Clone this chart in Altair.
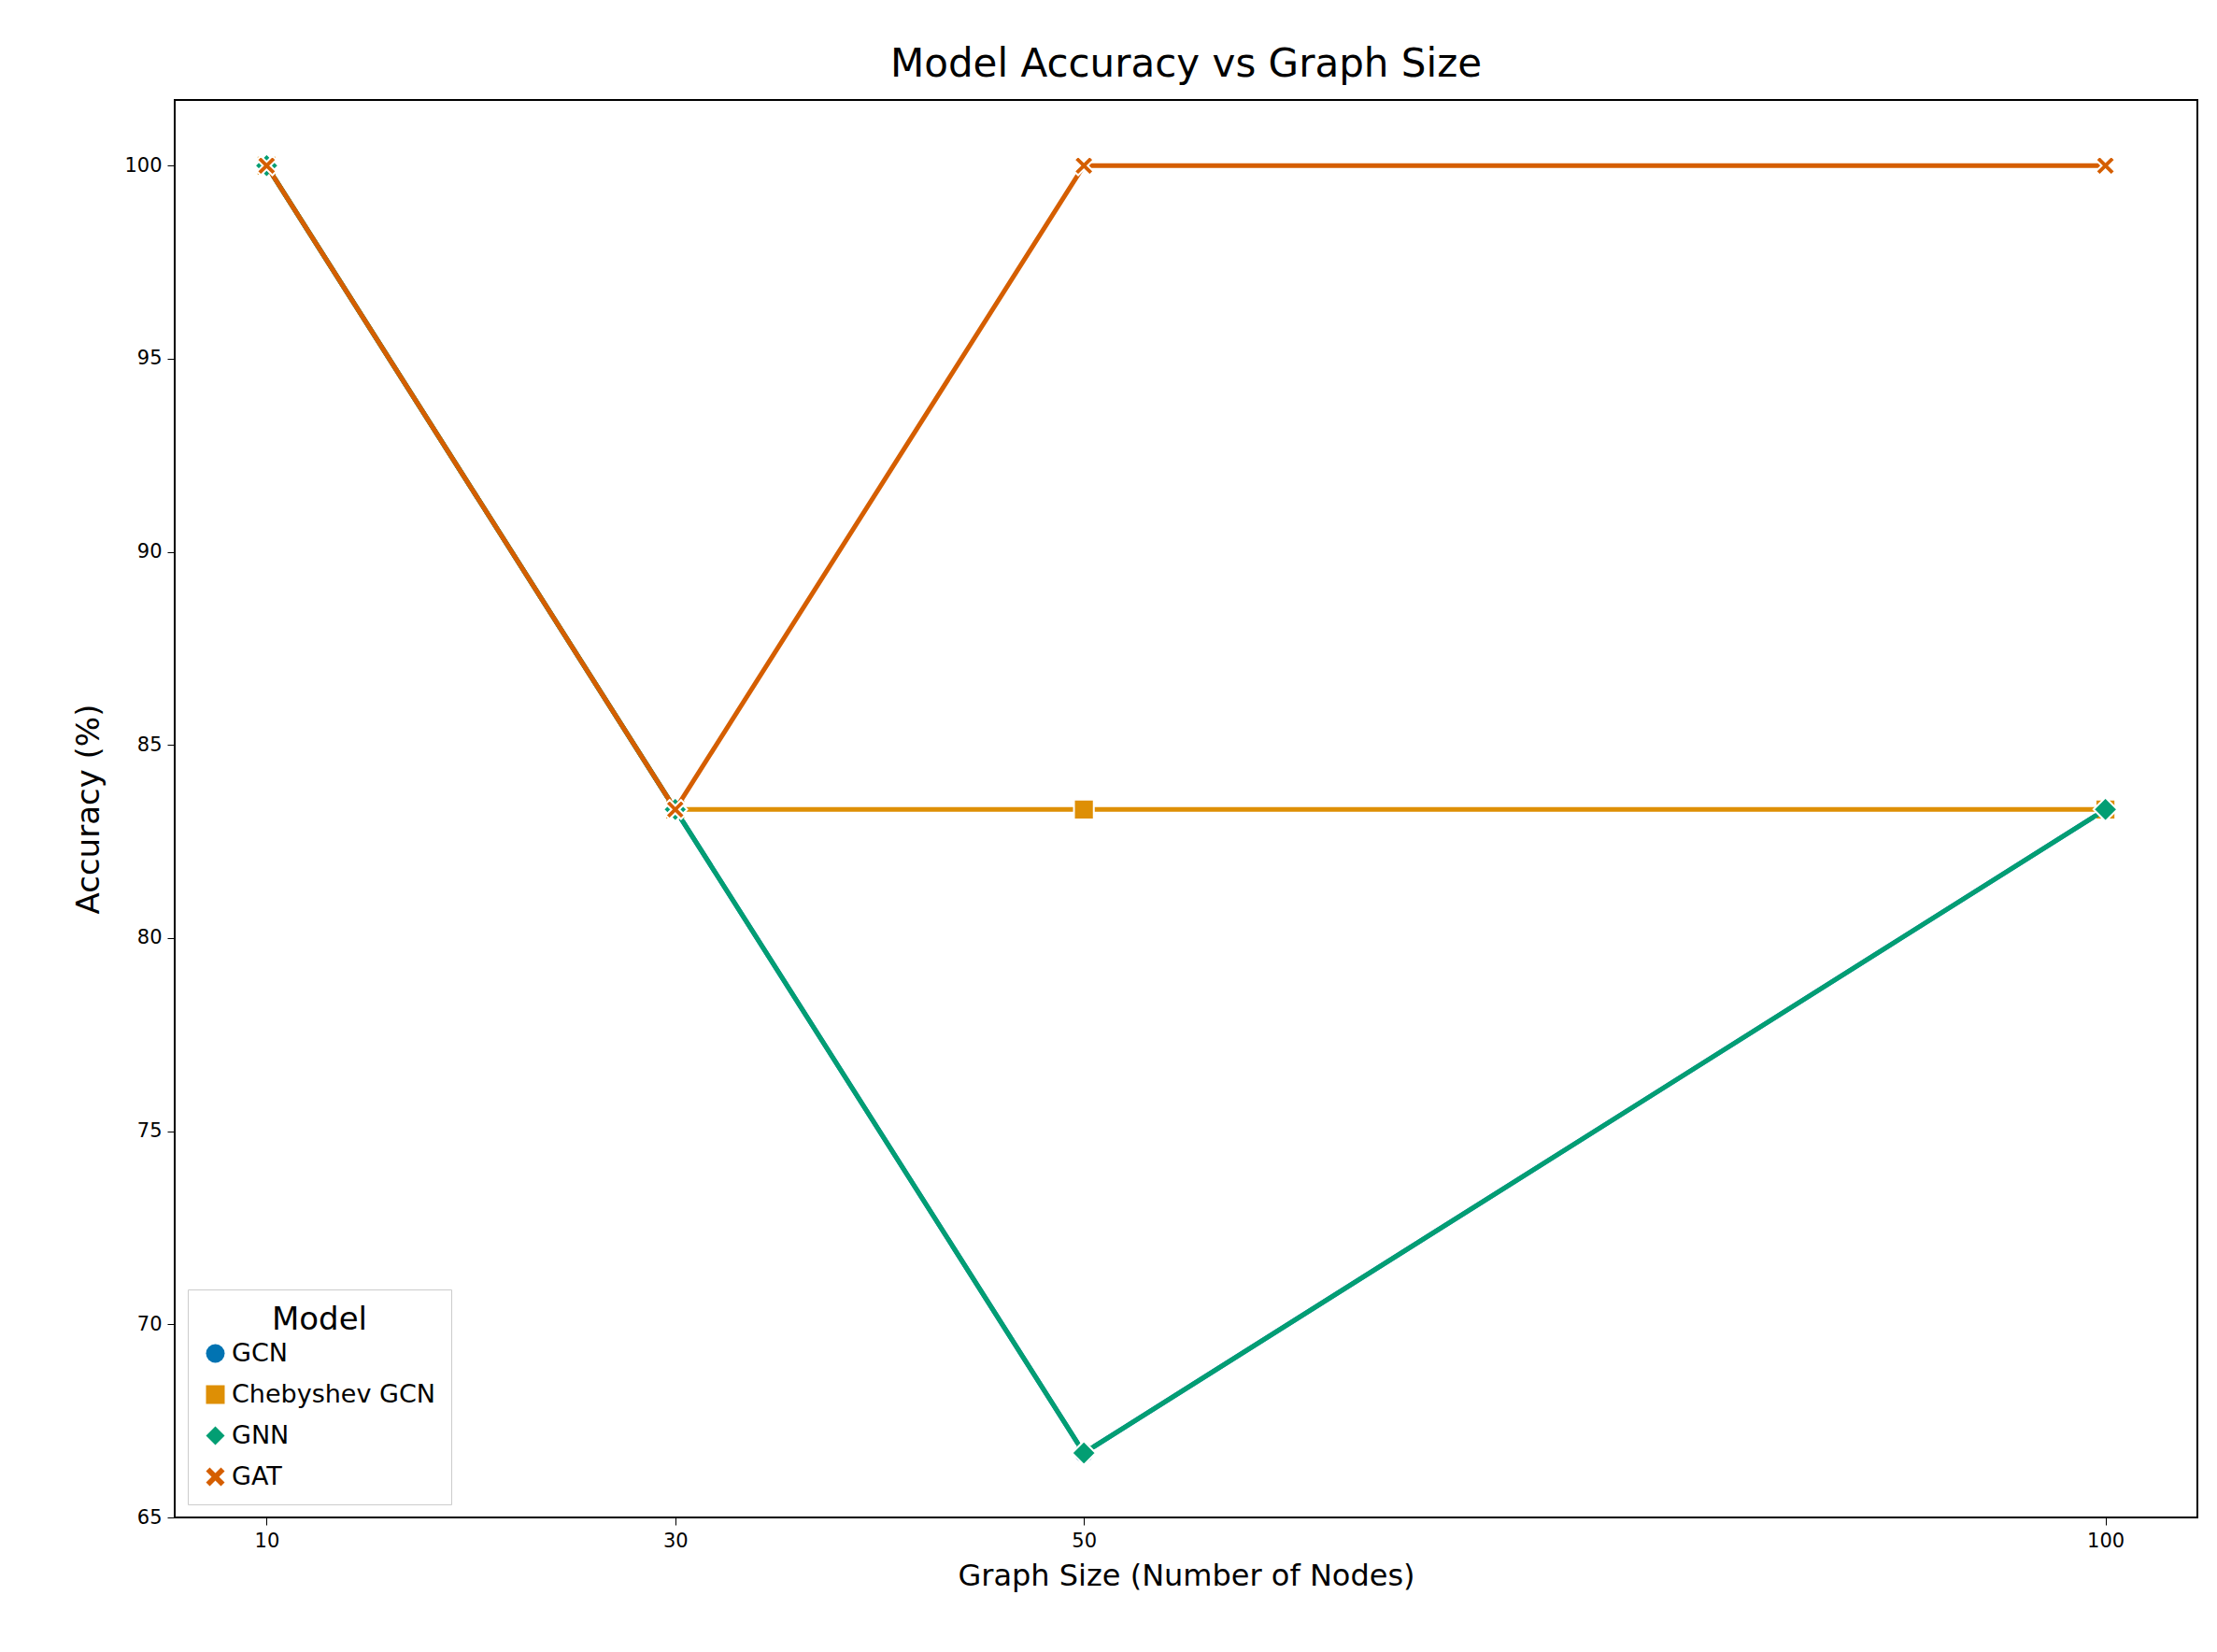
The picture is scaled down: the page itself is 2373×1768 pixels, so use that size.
import altair as alt
import pandas as pd

sizes = [10, 30, 50, 100]
models = ["GCN", "Chebyshev GCN", "GNN", "GAT"]
gcn = [100.0, 83.33, 66.67, 83.33]
cheb = [100.0, 83.33, 83.33, 83.33]
gnn = [100.0, 83.33, 66.67, 83.33]
gat = [100.0, 83.33, 100.0, 100.0]
colors = ["#0173b2", "#de8f05", "#029e73", "#d55e00"]
xpath = "M-0.6,-1L0,-0.4L0.6,-1L1,-0.6L0.4,0L1,0.6L0.6,1L0,0.4L-0.6,1L-1,0.6L-0.4,0L-1,-0.6Z"
shapes = ["circle", "square", "diamond", xpath]
msizes = [500, 450, 650, 420]

x = alt.X("size:Q", title="Graph Size (Number of Nodes)",
          scale=alt.Scale(domain=[5.5, 104.5], nice=False, zero=False),
          axis=alt.Axis(values=sizes, grid=False, labelFontSize=21, titleFontSize=32,
                        tickSize=8, labelPadding=6, titlePadding=12))
y = alt.Y("acc:Q", title="Accuracy (%)",
          scale=alt.Scale(domain=[65, 101.7], nice=False, zero=False),
          axis=alt.Axis(values=[65, 70, 75, 80, 85, 90, 95, 100], grid=False, labelFontSize=21,
                        titleFontSize=34, tickSize=8, labelPadding=6, titlePadding=20))
color = alt.Color("Model:N", scale=alt.Scale(domain=models, range=colors),
                  legend=alt.Legend(orient="bottom-left", title="Model", titleFontSize=34,
                                    labelFontSize=27, labelLimit=500, symbolSize=400,
                                    symbolStrokeWidth=0,
                                    fillColor="white", strokeColor="#cccccc", padding=16,
                                    rowPadding=16, offset=14, titleAnchor="middle",
                                    titleFontWeight="normal", symbolOpacity=1))
shape = alt.Shape("Model:N", scale=alt.Scale(domain=models, range=shapes))

layers = []
for i, (m, vals) in enumerate(zip(models, [gcn, cheb, gnn, gat])):
    d = pd.DataFrame({"size": sizes, "acc": vals, "Model": [m] * 4})
    b = alt.Chart(d)
    layers.append(b.mark_line(strokeWidth=5).encode(x=x, y=y, color=color))
    layers.append(b.mark_point(filled=True, size=msizes[i], stroke="white", strokeWidth=2,
                               opacity=1).encode(x=x, y=y, color=color, shape=shape))

chart = alt.layer(*layers).properties(
    width=2165, height=1517,
    padding={"left": 70, "top": 40, "right": 10, "bottom": 10},
    title=alt.Title("Model Accuracy vs Graph Size", fontSize=42, fontWeight="normal", offset=16)
).configure_view(stroke="black", strokeWidth=2).configure_axis(
    domainColor="black", tickColor="black", labelColor="black", titleColor="black",
    labelFont="DejaVu Sans", titleFont="DejaVu Sans", titleFontWeight="normal"
).configure_legend(labelFont="DejaVu Sans", titleFont="DejaVu Sans").configure_title(font="DejaVu Sans")

chart.save("out.html", embed_options={"renderer": "svg", "actions": False})
